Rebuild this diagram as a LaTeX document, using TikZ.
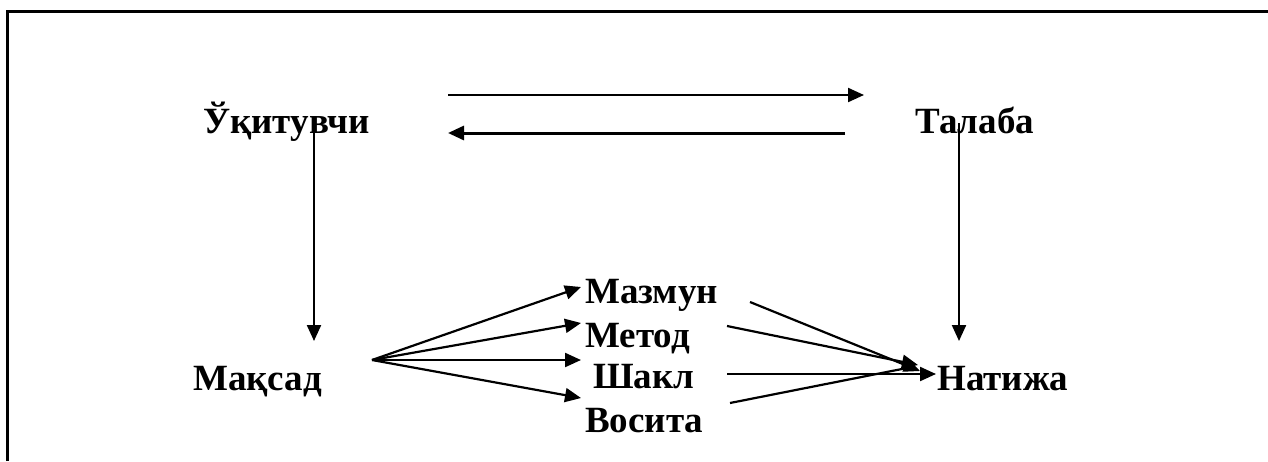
\documentclass[tikz,border=0pt]{standalone}
\usepackage{fontspec}
\setmainfont{Liberation Serif}
\usetikzlibrary{arrows.meta}
\begin{document}
\begin{tikzpicture}[x=1pt,y=-1pt,
  lbl/.style={anchor=base west,inner sep=0pt,font=\fontsize{37}{41}\selectfont\bfseries},
  arr/.style={line width=2.2pt,-{Triangle[length=16pt,width=14pt]}},
  frame/.style={line width=3pt}]
\useasboundingbox (0,0) rectangle (1268,461);
\draw[frame] (7,461) -- (7,11) -- (1268,11);
% nodes
\node[lbl] (uq) at (203,133) {Ўқитувчи};
\node[lbl] (tal) at (915,133) {Талаба};
\node[lbl] (max) at (193,390) {Мақсад};
\node[lbl] (maz) at (585,303) {Мазмун};
\node[lbl] (met) at (585,347) {Метод};
\node[lbl] (sha) at (593,388) {Шакл};
\node[lbl] (vos) at (585,432) {Восита};
\node[lbl] (nat) at (937,390) {Натижа};
% coordinates
\coordinate (t1s) at (448,95);  \coordinate (t1e) at (864,95);
\coordinate (t2s) at (845,133); \coordinate (t2e) at (448,133);
\coordinate (uqd) at (314,123); \coordinate (maxu) at (314,341);
\coordinate (tald) at (959,123); \coordinate (natu) at (959,341);
\coordinate (fan) at (372,360);
\coordinate (mazw) at (581,287); \coordinate (metw) at (581,323);
\coordinate (shaw) at (581,360); \coordinate (vosw) at (581,398);
\coordinate (maze) at (750,302); \coordinate (mete) at (727,326);
\coordinate (shae) at (727,374); \coordinate (vose) at (730,403);
\coordinate (natA) at (920,371); \coordinate (natB) at (918,365);
\coordinate (natC) at (936,374); \coordinate (natD) at (912,367);
% connectors
\draw[arr] (t1s) -- (t1e);
\draw[arr,line width=3pt] (t2s) -- (t2e);
\draw[arr] (uqd) -- (maxu);
\draw[arr] (tald) -- (natu);
\draw[arr] (fan) -- (mazw);
\draw[arr] (fan) -- (metw);
\draw[arr] (fan) -- (shaw);
\draw[arr] (fan) -- (vosw);
\draw[arr] (maze) -- (natA);
\draw[arr] (mete) -- (natB);
\draw[arr] (shae) -- (natC);
\draw[line width=2.2pt] (vose) -- (natD);
\end{tikzpicture}
\end{document}
